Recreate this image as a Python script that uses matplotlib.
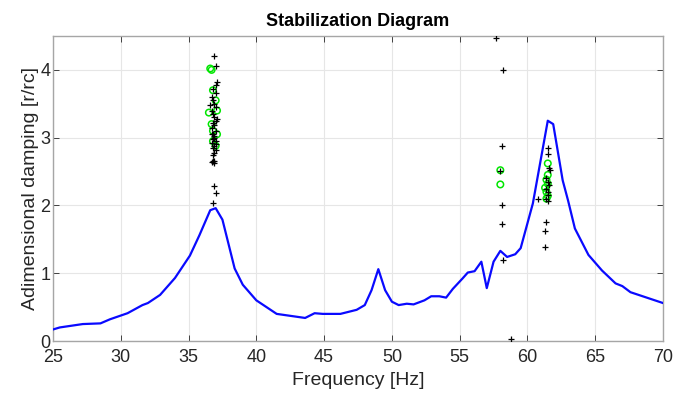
import numpy as np
import matplotlib
matplotlib.use("Agg")
import matplotlib.pyplot as plt

plt.rcParams['font.family'] = ['Liberation Sans', 'DejaVu Sans']

# response curve (blue line)
curve_freq = [25.0, 25.5, 27.2, 28.5, 29.2, 30.5, 31.6, 32.0, 32.9, 34.0, 35.1, 35.8,
              36.6, 37.0, 37.5, 38.0, 38.4, 39.0, 40.0, 41.5, 43.6, 44.3, 44.9, 46.2,
              47.4, 48.0, 48.5, 49.0, 49.5, 50.0, 50.5, 51.1, 51.6, 52.4, 52.9, 53.5,
              54.0, 54.5, 55.2, 55.6, 56.1, 56.6, 57.0, 57.5, 58.0, 58.5, 59.1, 59.5,
              60.4, 61.5, 61.9, 62.6, 63.0, 63.5, 64.5, 65.5, 66.5, 67.0, 67.6, 68.5, 70.0]
curve_damp = [0.17, 0.20, 0.25, 0.26, 0.32, 0.41, 0.53, 0.56, 0.68, 0.93, 1.26, 1.56,
              1.93, 1.96, 1.79, 1.39, 1.07, 0.83, 0.60, 0.40, 0.34, 0.41, 0.40, 0.40,
              0.46, 0.53, 0.75, 1.06, 0.75, 0.58, 0.53, 0.55, 0.54, 0.60, 0.66, 0.66,
              0.64, 0.77, 0.92, 1.01, 1.03, 1.17, 0.78, 1.17, 1.33, 1.24, 1.28, 1.37,
              2.03, 3.25, 3.20, 2.37, 2.07, 1.66, 1.27, 1.04, 0.85, 0.81, 0.72, 0.66, 0.56]

# unstable poles (black +)
pole_freq = [36.9, 37.0, 37.1, 37.0, 36.8, 37.0, 36.7, 36.8, 36.9, 37.0, 36.7, 36.8,
             36.9, 37.0, 36.8, 36.9, 36.7, 37.0, 36.8, 36.9, 36.8, 37.0, 36.7, 36.9,
             36.8, 37.0, 36.9, 36.8, 36.9, 36.7, 36.9, 36.8, 36.9, 37.0, 36.8, 36.9,
             36.6, 37.1, 36.7, 37.0,
             57.7, 58.2, 58.1, 58.0, 58.1, 58.1, 58.2, 58.8,
             61.5, 61.5, 61.6, 61.7, 61.4, 61.5, 61.6, 61.4, 61.5, 61.5, 61.4, 61.5,
             60.8, 61.4, 61.3, 61.3]
pole_damp = [4.20, 4.06, 3.82, 3.78, 3.72, 3.66, 3.60, 3.55, 3.50, 3.45, 3.40, 3.35,
             3.30, 3.25, 3.22, 3.18, 3.14, 3.10, 3.06, 3.02, 2.98, 2.95, 2.92, 2.88,
             2.85, 2.82, 2.78, 2.75, 2.66, 2.64, 2.62, 2.66, 2.28, 2.19, 2.03, 3.00,
             3.48, 3.28, 3.05, 2.90,
             4.47, 4.00, 2.87, 2.51, 2.00, 1.72, 1.19, 0.03,
             2.85, 2.76, 2.55, 2.52, 2.40, 2.35, 2.30, 2.25, 2.20, 2.15, 2.10, 2.07,
             2.09, 1.75, 1.63, 1.38]

# stable poles (green o)
stable_freq = [36.6, 36.7, 36.5, 37.1, 36.8, 37.0, 36.7, 37.1, 36.8, 37.0, 36.8,
               58.0, 58.0,
               61.5, 61.5, 61.4, 61.5, 61.3, 61.4, 61.5, 61.4]
stable_damp = [4.02, 4.00, 3.37, 3.40, 3.70, 3.55, 3.20, 3.05, 2.95, 2.88, 3.10,
               2.52, 2.31,
               2.62, 2.45, 2.38, 2.32, 2.26, 2.20, 2.14, 2.10]

fig = plt.figure(figsize=(6.89, 3.99), dpi=100)
ax = fig.add_axes([53 / 689, 1 - 341 / 399, 610 / 689, 305 / 399])

ax.plot(curve_freq, curve_damp, color='#0a0aff', lw=1.6, zorder=3)
ax.scatter(stable_freq, stable_damp, marker='o', s=22, facecolors='none',
           edgecolors='#00e600', linewidths=1.1, zorder=4)
ax.scatter(pole_freq, pole_damp, marker='+', s=18, color='black',
           linewidths=0.9, zorder=5)

ax.set_xlim(25, 70)
ax.set_ylim(0, 4.5)
ax.set_xticks(np.arange(25, 71, 5))
ax.set_yticks([0, 1, 2, 3, 4])
ax.grid(True, color='#e6e6e6', lw=0.8)
ax.set_axisbelow(True)
ax.tick_params(direction='in', top=True, right=True, labelsize=13,
               colors='#262626', length=4, width=0.6)
ax.tick_params(axis='x', pad=6)
ax.tick_params(axis='y', pad=2)
for sp in ax.spines.values():
    sp.set_color('#a6a6a6')
    sp.set_linewidth(1.0)

ax.set_xlabel('Frequency [Hz]', fontsize=14, color='#262626', labelpad=4)
ax.set_ylabel('Adimensional damping [r/rc]', fontsize=14, color='#262626', labelpad=1)
ax.set_title('Stabilization Diagram', fontsize=13, fontweight='bold', pad=7)

fig.savefig('out.png', dpi=100)
